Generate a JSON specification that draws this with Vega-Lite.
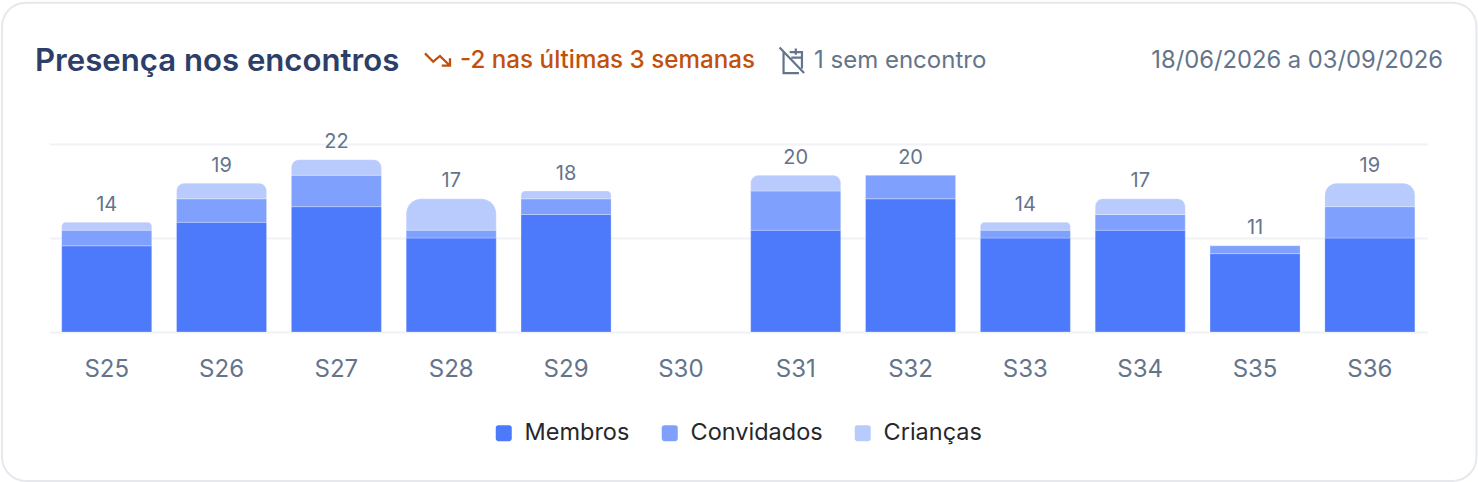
{
"$schema":"https://vega.github.io/schema/vega-lite/v6.json",
"width":1378,"height":188,"autosize":{"type":"none"},
"padding":{"left":50,"top":144,"right":50,"bottom":150},
"background":"#ffffff",
"config":{"view":{"stroke":null},"font":"Inter"},
"title":{"text":"Presença nos encontros","anchor":"start","frame":"group","dx":-15,"offset":-100,"baseline":"alphabetic","font":"Inter","fontSize":31.15,"fontWeight":600,"color":"#2d3f68"},
"data":{"values":[
{"semana":"S25","categoria":"Membros","ordem":1,"valor":11},{"semana":"S25","categoria":"Convidados","ordem":2,"valor":2},{"semana":"S25","categoria":"Crianças","ordem":3,"valor":1},
{"semana":"S26","categoria":"Membros","ordem":1,"valor":14},{"semana":"S26","categoria":"Convidados","ordem":2,"valor":3},{"semana":"S26","categoria":"Crianças","ordem":3,"valor":2},
{"semana":"S27","categoria":"Membros","ordem":1,"valor":16},{"semana":"S27","categoria":"Convidados","ordem":2,"valor":4},{"semana":"S27","categoria":"Crianças","ordem":3,"valor":2},
{"semana":"S28","categoria":"Membros","ordem":1,"valor":12},{"semana":"S28","categoria":"Convidados","ordem":2,"valor":1},{"semana":"S28","categoria":"Crianças","ordem":3,"valor":4},
{"semana":"S29","categoria":"Membros","ordem":1,"valor":15},{"semana":"S29","categoria":"Convidados","ordem":2,"valor":2},{"semana":"S29","categoria":"Crianças","ordem":3,"valor":1},
{"semana":"S30","categoria":"Membros","ordem":1,"valor":0},{"semana":"S30","categoria":"Convidados","ordem":2,"valor":0},{"semana":"S30","categoria":"Crianças","ordem":3,"valor":0},
{"semana":"S31","categoria":"Membros","ordem":1,"valor":13},{"semana":"S31","categoria":"Convidados","ordem":2,"valor":5},{"semana":"S31","categoria":"Crianças","ordem":3,"valor":2},
{"semana":"S32","categoria":"Membros","ordem":1,"valor":17},{"semana":"S32","categoria":"Convidados","ordem":2,"valor":3},{"semana":"S32","categoria":"Crianças","ordem":3,"valor":0},
{"semana":"S33","categoria":"Membros","ordem":1,"valor":12},{"semana":"S33","categoria":"Convidados","ordem":2,"valor":1},{"semana":"S33","categoria":"Crianças","ordem":3,"valor":1},
{"semana":"S34","categoria":"Membros","ordem":1,"valor":13},{"semana":"S34","categoria":"Convidados","ordem":2,"valor":2},{"semana":"S34","categoria":"Crianças","ordem":3,"valor":2},
{"semana":"S35","categoria":"Membros","ordem":1,"valor":10},{"semana":"S35","categoria":"Convidados","ordem":2,"valor":1},{"semana":"S35","categoria":"Crianças","ordem":3,"valor":0},
{"semana":"S36","categoria":"Membros","ordem":1,"valor":12},{"semana":"S36","categoria":"Convidados","ordem":2,"valor":4},{"semana":"S36","categoria":"Crianças","ordem":3,"valor":3}
]},
"transform":[{"stack":"valor","groupby":["semana"],"sort":[{"field":"ordem","order":"ascending"}],"as":["ini","fim"]}],
"layer":[
{"data":{"values":[{"id":"card"}]},"mark":{"type":"rect","fill":null,"stroke":"#e6e8ee","strokeWidth":2,"cornerRadius":24},"encoding":{"x":{"value":-48},"x2":{"value":1426.5},"y":{"value":-141.3},"y2":{"value":337}}},
{"mark":{"type":"bar","opacity":0},"encoding":{
 "x":{"field":"semana","type":"nominal","scale":{"type":"band","range":[-0.7,1377.3],"paddingInner":0.216,"paddingOuter":0.108},"axis":{"title":null,"labelAngle":0,"ticks":false,"domain":false,"grid":false,"labelFont":"Inter","labelFontSize":24,"labelColor":"#64748b","labelPadding":25}},
 "y":{"field":"fim","type":"quantitative","scale":{"domain":[0,24],"nice":false},"axis":{"title":null,"values":[0,12,24],"labels":false,"ticks":false,"domain":false,"grid":true,"gridColor":"#f0f2f6","gridWidth":2}},
 "y2":{"field":"ini"}}},
{"transform":[{"filter":"datum.valor>0 && datum.categoria!='Crianças'"}],"mark":{"type":"bar","stroke":"#ffffff","strokeWidth":1,"strokeOpacity":0.25},
 "encoding":{"x":{"field":"semana","type":"nominal"},"y":{"field":"fim","type":"quantitative"},"y2":{"field":"ini"},
 "color":{"field":"categoria","type":"nominal","scale":{"domain":["Membros","Convidados","Crianças"],"range":["#4d79fb","#7fa1fd","#b9cbfd"]},
  "legend":{"title":null,"orient":"none","legendX":442,"legendY":277,"direction":"horizontal","symbolType":"M-0.65,-1 H0.65 Q1,-1 1,-0.65 V0.65 Q1,1 0.65,1 H-0.65 Q-1,1 -1,0.65 V-0.65 Q-1,-1 -0.65,-1 Z","symbolSize":256,"symbolStrokeWidth":0,"symbolOpacity":1,"labelFont":"Inter","labelFontSize":23.5,"labelColor":"#27272a","labelOffset":9,"columnPadding":28,"labelLimit":200}}}},
{"transform":[{"filter":"datum.categoria=='Crianças' && datum.valor==1"}],"mark":{"type":"bar","cornerRadiusTopLeft":4,"cornerRadiusTopRight":4,"stroke":"#ffffff","strokeWidth":1,"strokeOpacity":0.25},
 "encoding":{"x":{"field":"semana","type":"nominal"},"y":{"field":"fim","type":"quantitative"},"y2":{"field":"ini"},"color":{"field":"categoria","type":"nominal"}}},
{"transform":[{"filter":"datum.categoria=='Crianças' && datum.valor==2"}],"mark":{"type":"bar","cornerRadiusTopLeft":8,"cornerRadiusTopRight":8,"stroke":"#ffffff","strokeWidth":1,"strokeOpacity":0.25},
 "encoding":{"x":{"field":"semana","type":"nominal"},"y":{"field":"fim","type":"quantitative"},"y2":{"field":"ini"},"color":{"field":"categoria","type":"nominal"}}},
{"transform":[{"filter":"datum.categoria=='Crianças' && datum.valor==3"}],"mark":{"type":"bar","cornerRadiusTopLeft":12,"cornerRadiusTopRight":12,"stroke":"#ffffff","strokeWidth":1,"strokeOpacity":0.25},
 "encoding":{"x":{"field":"semana","type":"nominal"},"y":{"field":"fim","type":"quantitative"},"y2":{"field":"ini"},"color":{"field":"categoria","type":"nominal"}}},
{"transform":[{"filter":"datum.categoria=='Crianças' && datum.valor==4"}],"mark":{"type":"bar","cornerRadiusTopLeft":15,"cornerRadiusTopRight":15,"stroke":"#ffffff","strokeWidth":1,"strokeOpacity":0.25},
 "encoding":{"x":{"field":"semana","type":"nominal"},"y":{"field":"fim","type":"quantitative"},"y2":{"field":"ini"},"color":{"field":"categoria","type":"nominal"}}},
{"transform":[{"aggregate":[{"op":"sum","field":"valor","as":"total"}],"groupby":["semana"]},{"filter":"datum.total>0"}],
 "mark":{"type":"text","font":"Inter","fontSize":20,"color":"#64748b","baseline":"alphabetic","dy":-11.5},
 "encoding":{"x":{"field":"semana","type":"nominal"},"y":{"field":"total","type":"quantitative"},"text":{"field":"total","type":"quantitative"}}},
{"data":{"values":[{"t":"-2 nas últimas 3 semanas"}]},"mark":{"type":"text","font":"Inter","fontSize":24.2,"fontWeight":500,"color":"#c2500a","align":"left","baseline":"alphabetic"},"encoding":{"x":{"value":410},"y":{"value":-76},"text":{"field":"t"}}},
{"data":{"values":[{"t":"1 sem encontro"}]},"mark":{"type":"text","font":"Inter","fontSize":24,"color":"#64748b","align":"left","baseline":"alphabetic"},"encoding":{"x":{"value":764},"y":{"value":-76},"text":{"field":"t"}}},
{"data":{"values":[{"t":"18/06/2026 a 03/09/2026"}]},"mark":{"type":"text","font":"Inter","fontSize":23.75,"color":"#64748b","align":"right","baseline":"alphabetic"},"encoding":{"x":{"value":1393},"y":{"value":-76},"text":{"field":"t"}}},
{"data":{"values":[{"id":"tendencia"}]},"mark":{"type":"point","shape":"M-0.96,-0.51 L-0.33,0.13 L0.19,-0.31 L0.96,0.44 M0.96,-0.13 V0.44 H0.33","size":676,"filled":false,"opacity":1,"stroke":"#c2500a","strokeWidth":2.3},"encoding":{"x":{"value":387.5},"y":{"value":-84}}},
{"data":{"values":[{"id":"sem encontro"}]},"mark":{"type":"point","shape":"M-0.78,-0.78 L0.7,0.76 M-0.54,-0.5 V0.76 H0.39 M-0.17,-0.5 H0.57 V0.48 M0.2,-0.72 V-0.35 M-0.07,-0.17 H0.57","size":1100,"filled":false,"opacity":1,"stroke":"#64748b","strokeWidth":2.2},"encoding":{"x":{"value":742.5},"y":{"value":-83.5}}}
]
}
